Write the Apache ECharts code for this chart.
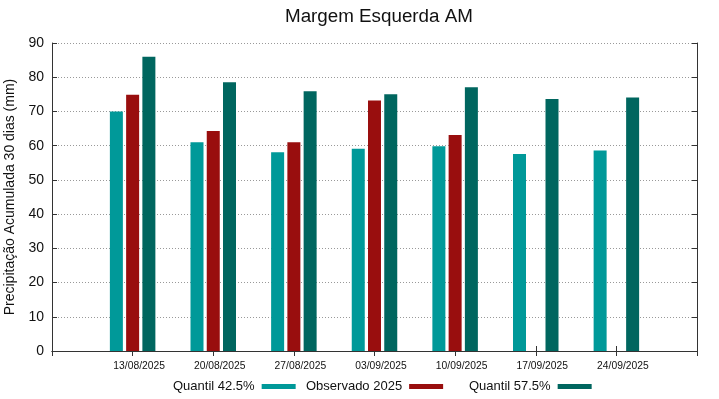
<!DOCTYPE html>
<html>
<head>
<meta charset="utf-8">
<script src="https://cdn.jsdelivr.net/npm/echarts@6/dist/echarts.min.js"></script>
<style>html,body{margin:0;padding:0;background:#fff}#c{width:719px;height:399px}</style>
</head>
<body>
<div id="c"></div>
<script>
const categories = ['', '13/08/2025', '20/08/2025', '27/08/2025', '03/09/2025', '10/09/2025', '17/09/2025', '24/09/2025', ''];
const quantil425 = [null, 70.0, 61.0, 58.1, 59.1, 59.8, 57.6, 58.6, null];
const observado2025 = [null, 74.9, 64.3, 61.0, 73.2, 63.1, null, null, null];
const quantil575 = [null, 86.0, 78.5, 75.9, 75.0, 77.1, 73.6, 74.1, null];
const yTicks = { min: 0, max: 90, interval: 10 };

const chart = echarts.init(document.getElementById('c'), null, { renderer: 'canvas' });
const font = 'Liberation Sans, Arial, sans-serif';
const frame = { show: true, lineStyle: { color: '#333', width: 1 } };
const tick = { show: true, inside: true, length: 5, lineStyle: { color: '#333' } };
const legendBase = { top: 380, itemWidth: 34, itemHeight: 5, icon: 'rect', align: 'right', padding: 0,
  textStyle: { fontFamily: font, fontSize: 13, color: '#111', padding: [0, 2, 0, 0] } };
chart.setOption({
  animation: false,
  title: { text: 'Margem Esquerda AM', left: 280, top: 2,
    textStyle: { fontFamily: font, fontSize: 18.8, fontWeight: 'normal', color: '#111' } },
  grid: { left: 52, right: 22, top: 43, bottom: 48, containLabel: false, outerBoundsMode: 'none' },
  legend: [
    Object.assign({}, legendBase, { left: 173, data: ['Quantil 42.5%'] }),
    Object.assign({}, legendBase, { left: 306, data: ['Observado 2025'] }),
    Object.assign({}, legendBase, { left: 469, data: ['Quantil 57.5%'] })
  ],
  xAxis: [
    { type: 'category', data: categories, boundaryGap: false, position: 'bottom',
      axisLine: frame, axisTick: tick,
      axisLabel: { interval: 0, fontFamily: font, fontSize: 10.3, color: '#111', margin: 10, padding: [0, 0, 0, 13] },
      splitLine: { show: false } },
    { type: 'category', data: categories, boundaryGap: false, position: 'top',
      axisLine: frame, axisTick: tick, axisLabel: { show: false }, splitLine: { show: false } }
  ],
  yAxis: [
    { type: 'value', min: yTicks.min, max: yTicks.max, interval: yTicks.interval, position: 'left',
      name: 'Precipitação Acumulada 30 dias (mm)', nameLocation: 'middle', nameGap: 28, nameRotate: 90,
      nameTextStyle: { fontFamily: font, fontSize: 14, color: '#111' },
      axisLine: frame, axisTick: tick,
      axisLabel: { fontFamily: font, fontSize: 14, color: '#111', margin: 8 },
      splitLine: { show: true, lineStyle: { color: '#999', type: [1, 2], width: 1 } } },
    { type: 'value', min: yTicks.min, max: yTicks.max, interval: yTicks.interval, position: 'right',
      axisLine: frame, axisTick: tick, axisLabel: { show: false }, splitLine: { show: false } }
  ],
  series: [
    { name: 'Quantil 42.5%', type: 'bar', data: quantil425, barWidth: 13, barGap: '25%',
      itemStyle: { color: '#009999' } },
    { name: 'Observado 2025', type: 'bar', data: observado2025, barWidth: 13, barGap: '25%',
      itemStyle: { color: '#990e0e' } },
    { name: 'Quantil 57.5%', type: 'bar', data: quantil575, barWidth: 13, barGap: '25%',
      itemStyle: { color: '#00665f' } }
  ]
});
</script>
</body>
</html>
